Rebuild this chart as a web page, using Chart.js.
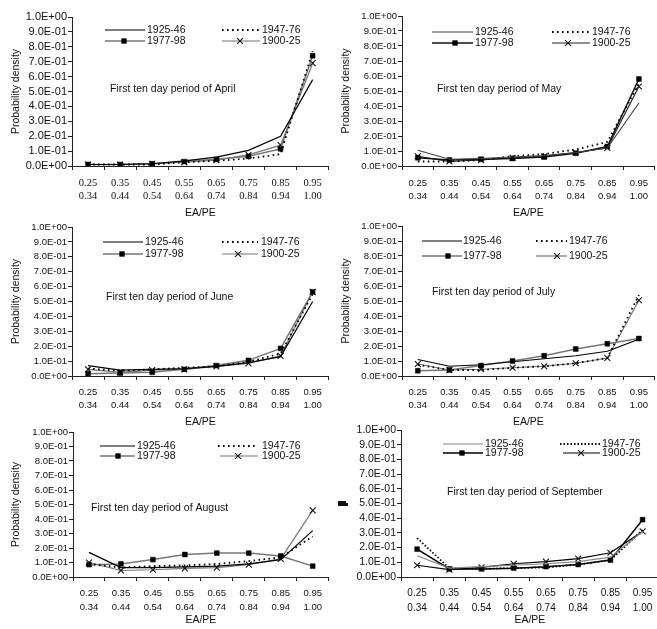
<!DOCTYPE html>
<html><head><meta charset="utf-8">
<script src="https://cdn.jsdelivr.net/npm/chart.js@4.4.1/dist/chart.umd.min.js"></script>
<style>
html,body{margin:0;padding:0;background:#fff;overflow:hidden;width:657px;height:629px;position:relative;}
canvas{position:absolute;}
</style></head><body>
<script>
// ---------- DATA ----------
const catLow  = ["0.25","0.35","0.45","0.55","0.65","0.75","0.85","0.95"];
const catHigh = ["0.34","0.44","0.54","0.64","0.74","0.84","0.94","1.00"];
const seriesNames = ["1925-46","1947-76","1977-98","1900-25"];
const monthNames = ["April","May","June","July","August","September"];
const yMin = 0, yMax = 1.0, yStep = 0.1;

const apr1925 = [0.010,0.010,0.015,0.035,0.060,0.105,0.200,0.580];
const apr1947 = [0.010,0.010,0.010,0.025,0.035,0.050,0.080,0.770];
const apr1977 = [0.010,0.010,0.015,0.030,0.045,0.065,0.115,0.740];
const apr1900 = [0.010,0.010,0.015,0.025,0.040,0.075,0.140,0.690];

const may1925 = [0.105,0.045,0.050,0.060,0.070,0.090,0.120,0.420];
const may1947 = [0.030,0.030,0.040,0.065,0.080,0.110,0.160,0.550];
const may1977 = [0.055,0.040,0.045,0.050,0.060,0.085,0.130,0.580];
const may1900 = [0.065,0.030,0.040,0.055,0.065,0.090,0.120,0.530];

const jun1925 = [0.070,0.040,0.045,0.050,0.065,0.090,0.130,0.500];
const jun1947 = [0.050,0.035,0.045,0.055,0.065,0.095,0.150,0.550];
const jun1977 = [0.015,0.020,0.025,0.045,0.070,0.105,0.185,0.565];
const jun1900 = [0.045,0.025,0.040,0.045,0.065,0.085,0.135,0.565];

const jul1925 = [0.110,0.065,0.075,0.095,0.115,0.135,0.165,0.245];
const jul1947 = [0.075,0.040,0.040,0.055,0.065,0.085,0.120,0.540];
const jul1977 = [0.035,0.040,0.070,0.100,0.135,0.180,0.215,0.250];
const jul1900 = [0.080,0.040,0.045,0.055,0.065,0.085,0.120,0.505];

const aug1925 = [0.170,0.065,0.065,0.070,0.075,0.090,0.120,0.320];
const aug1947 = [0.090,0.065,0.075,0.080,0.090,0.110,0.135,0.280];
const aug1977 = [0.085,0.090,0.120,0.155,0.165,0.165,0.145,0.075];
const aug1900 = [0.100,0.045,0.050,0.060,0.065,0.085,0.125,0.460];

const sep1925 = [0.145,0.060,0.070,0.080,0.090,0.105,0.135,0.310];
const sep1947 = [0.265,0.060,0.055,0.060,0.065,0.085,0.115,0.320];
const sep1977 = [0.190,0.055,0.055,0.060,0.070,0.085,0.115,0.390];
const sep1900 = [0.080,0.050,0.065,0.090,0.105,0.125,0.165,0.310];

// ---------- LAYOUT / STYLE ----------
const SANS = '"Liberation Sans", Arial, Helvetica, sans-serif';
const SERIF = '"Liberation Serif", "Times New Roman", serif';
Chart.defaults.font.family = SANS;
Chart.defaults.color = '#111';

const panels = [
  {data:[apr1925,apr1947,apr1977,apr1900], cl:0, ct:0, cw:334, ch:222, axisX:72, topY:17, zeroY:166, rightX:330,
   xFam:SERIF, xSize:10.5, xLH:'13px', xPad:6.5, ySize:11, yTitle:true, title:[110,89],
   colors:['#000','#000','#777','#777'], dash:[1.6,3.4],
   legend:[[105,145,147,0,30],[222,260,262,0,30],[105,145,147,124,41],[222,260,262,240,41]]},
  {data:[may1925,may1947,may1977,may1900], cl:330, ct:0, cw:330, ch:222, axisX:402, topY:16, zeroY:166, rightX:659,
   xFam:SANS, xSize:9.5, xLH:'13px', xPad:6.5, ySize:9.5, yTitle:true, title:[437,89],
   colors:['#444','#000','#111','#222'], dash:[1.6,3.4],
   legend:[[432,473,475,0,32],[552,590,592,0,32],[432,473,475,455,43],[552,590,592,568,43]]},
  {data:[jun1925,jun1947,jun1977,jun1900], cl:0, ct:200, cw:334, ch:231, axisX:72, topY:227, zeroY:376, rightX:330,
   xFam:SANS, xSize:9.5, xLH:'13.5px', xPad:5.5, ySize:9.5, yTitle:true, title:[106,297],
   colors:['#000','#000','#777','#777'], dash:[1.6,3.4],
   legend:[[103,143,145,0,242],[222,258,261,0,242],[103,143,145,122,254],[222,258,261,238,254]]},
  {data:[jul1925,jul1947,jul1977,jul1900], cl:330, ct:200, cw:330, ch:231, axisX:402, topY:226, zeroY:376, rightX:659,
   xFam:SANS, xSize:9.5, xLH:'13.5px', xPad:5.5, ySize:9.5, yTitle:true, title:[432,292],
   colors:['#000','#000','#777','#777'], dash:[1.6,3.4],
   legend:[[422,462,463,0,241],[536,567,569,0,241],[422,462,463,448,256],[536,567,569,557,256]]},
  {data:[aug1925,aug1947,aug1977,aug1900], cl:0, ct:410, cw:334, ch:219, axisX:73, topY:432, zeroY:577, rightX:330,
   xFam:SANS, xSize:9.5, xLH:'14.5px', xPad:5, ySize:9.5, yTitle:true, title:[91,508],
   colors:['#000','#000','#777','#777'], dash:[1.6,3.4],
   legend:[[100,135,137,0,446],[218,258,262,0,446],[100,135,137,118,456],[220,258,262,238,456]]},
  {data:[sep1925,sep1947,sep1977,sep1900], cl:330, ct:410, cw:334, ch:219, axisX:401, topY:430, zeroY:577, rightX:663,
   xFam:SANS, xSize:10, xLH:'14.5px', xPad:5, ySize:10.5, yTitle:false, title:[447,492], blob:true,
   colors:['#888','#000','#000','#000'], dash:[1.5,2],
   legend:[[443,483,485,0,444],[560,600,602,0,444],[443,483,485,462,453],[563,600,602,581,453]]}
];

function fmtExp(v){
  const s = Number(v).toExponential(1).split('e');
  const sign = s[1][0] === '-' ? '-' : '+';
  const d = s[1].replace(/^[+-]/,'').padStart(2,'0');
  return s[0] + 'E' + sign + d;
}

const overlay = {
  id:'overlay',
  afterDraw(chart, args, o){
    const p = o.panel; const ctx = chart.ctx;
    ctx.save();
    ctx.fillStyle = '#111';
    ctx.textAlign = 'left'; ctx.textBaseline = 'middle';
    ctx.font = '10.5px ' + SANS;
    ctx.fillText('First ten day period of ' + o.month, p.title[0]-p.cl, p.title[1]-p.ct);
    chart.data.datasets.forEach((ds,i)=>{
      const L = p.legend[i];
      const y = L[4]-p.ct;
      ctx.beginPath();
      ctx.strokeStyle = ds.borderColor; ctx.lineWidth = ds.borderWidth;
      ctx.setLineDash(ds.borderDash || []);
      ctx.moveTo(L[0]-p.cl, y); ctx.lineTo(L[1]-p.cl, y); ctx.stroke();
      ctx.setLineDash([]);
      if (ds.pointRadius > 0){
        ctx.fillStyle = ds.pointBackgroundColor; ctx.strokeStyle = ds.pointBorderColor;
        ctx.lineWidth = ds.pointBorderWidth;
        Chart.helpers.drawPoint(ctx, {pointStyle:ds.pointStyle, radius:ds.pointRadius, borderWidth:ds.pointBorderWidth, rotation:0}, L[3]-p.cl, y);
      }
      ctx.fillStyle = '#111';
      ctx.font = '10.5px ' + SANS;
      ctx.fillText(ds.label, L[2]-p.cl, y);
    });
    if (p.blob){
      ctx.fillStyle = '#111';
      ctx.fillRect(338-p.cl, 501-p.ct, 8, 5);
      ctx.fillRect(346-p.cl, 503-p.ct, 2, 3);
    }
    ctx.restore();
  }
};

panels.forEach((p, idx)=>{
  const cv = document.createElement('canvas');
  cv.width = p.cw; cv.height = p.ch;
  cv.style.left = p.cl + 'px'; cv.style.top = p.ct + 'px';
  cv.style.width = p.cw + 'px'; cv.style.height = p.ch + 'px';
  document.body.appendChild(cv);

  const mk = (i)=>{
    const ds = {label: seriesNames[i], data: p.data[i], borderColor: p.colors[i], backgroundColor: p.colors[i],
      borderWidth: 1.2, tension: 0, fill: false, pointRadius: 0, pointHoverRadius: 0};
    if (i === 1){ ds.borderDash = p.dash; ds.borderWidth = 1.8; }
    if (i === 2){ ds.borderWidth = 1.5; ds.pointStyle = 'rect'; ds.pointRadius = 3.4;
      ds.pointBackgroundColor = '#000'; ds.pointBorderColor = '#000'; ds.pointBorderWidth = 0.5; }
    if (i === 3){ ds.pointStyle = 'crossRot'; ds.pointRadius = 4.2;
      ds.pointBackgroundColor = '#000'; ds.pointBorderColor = '#111'; ds.pointBorderWidth = 1.1; }
    return ds;
  };

  new Chart(cv, {
    type:'line',
    data:{ labels: catLow.map((v,i)=>[v, catHigh[i]]), datasets:[0,1,2,3].map(mk) },
    options:{
      responsive:false, animation:false, devicePixelRatio:1,
      layout:{ padding:{ left:0, top:p.topY-p.ct, right:(p.cl+p.cw)-p.rightX, bottom:0 } },
      plugins:{ legend:{display:false}, tooltip:{enabled:false}, overlay:{panel:p, month:monthNames[idx]} },
      scales:{
        x:{ type:'category', offset:true,
          grid:{ display:true, drawOnChartArea:false, drawTicks:true, tickLength:4, offset:true, color:'#222', lineWidth:1 },
          border:{ display:true, color:'#222', width:1 },
          ticks:{ padding:p.xPad, autoSkip:false, maxRotation:0, minRotation:0, color:'#111',
                  font:{ family:p.xFam, size:p.xSize, lineHeight:p.xLH } },
          title:{ display:true, text:'EA/PE', color:'#111', font:{size:10.5, lineHeight:1.2}, padding:{top:0, bottom:2.7} },
          afterFit:(s)=>{ s.height = (p.ct+p.ch) - p.zeroY; }
        },
        y:{ min:yMin, max:yMax,
          grid:{ display:true, drawOnChartArea:false, drawTicks:true, tickLength:4, color:'#222', lineWidth:1 },
          border:{ display:true, color:'#222', width:1 },
          ticks:{ stepSize:yStep, autoSkip:false, maxTicksLimit:20, padding:1, color:'#111',
                  font:{size:p.ySize, lineHeight:1.0}, callback:(v)=>fmtExp(v) },
          title:{ display:p.yTitle, text:'Probability density', color:'#111', font:{size:10.5, lineHeight:1.2}, padding:{top:9.7, bottom:0} },
          afterFit:(s)=>{ s.width = p.axisX - p.cl; }
        }
      }
    },
    plugins:[overlay]
  });
});
</script>
</body></html>
